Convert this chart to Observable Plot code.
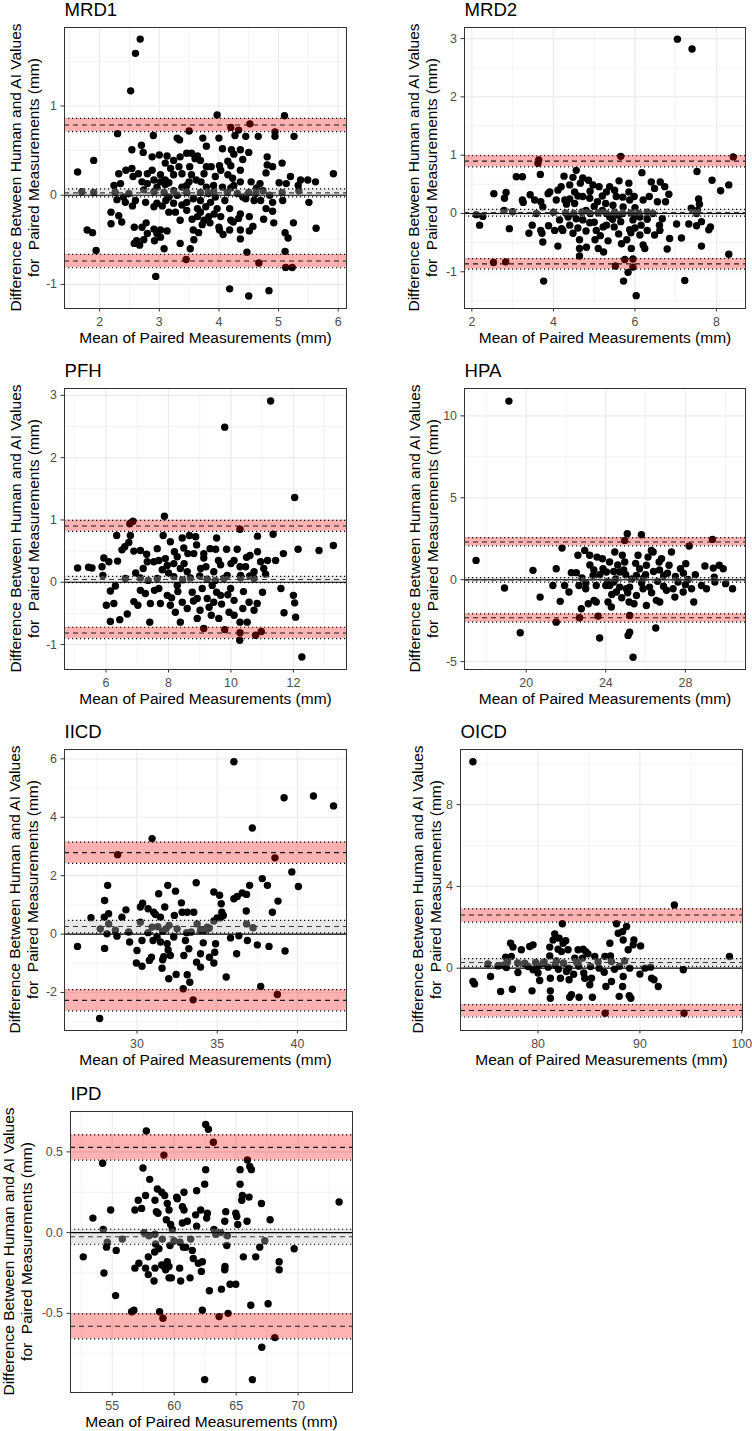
<!DOCTYPE html>
<html><head><meta charset="utf-8">
<script src="https://cdn.jsdelivr.net/npm/d3@7"></script>
<script src="https://cdn.jsdelivr.net/npm/@observablehq/plot@0.6"></script>
<style>
html,body{margin:0;padding:0;background:#fff;}
#chart{position:relative;width:752px;height:1431px;overflow:hidden;background:#fff;}
#chart svg{position:absolute;}
</style></head><body><div id="chart"></div>
<script>
// ---------- DATA: [mean of paired measurements, difference human - AI] ----------
const mrd1Points = [[2.68,1.75],[2.60,1.59],[2.52,1.17],[3.97,0.90],[5.10,0.89],[2.30,0.69],[2.90,0.67],[3.50,0.72],[4.20,0.76],[4.33,0.73],[4.52,0.80],[4.94,0.71],[4.94,0.66],[5.26,0.66],[3.73,0.64],[4.00,0.64],[3.30,0.64],[3.34,0.62],[4.45,0.66],[4.66,0.66],[4.27,0.67],[2.70,0.56],[2.54,0.51],[2.73,0.48],[1.90,0.39],[1.63,0.26],[2.32,0.24],[2.44,0.28],[2.54,0.30],[2.65,0.24],[2.56,0.21],[2.88,0.43],[3.00,0.45],[3.13,0.44],[3.24,0.39],[3.35,0.43],[3.46,0.47],[3.54,0.47],[3.60,0.41],[3.64,0.44],[3.79,0.55],[4.06,0.52],[4.21,0.51],[4.25,0.46],[4.36,0.51],[4.50,0.48],[4.40,0.40],[4.20,0.33],[3.79,0.32],[3.87,0.32],[4.01,0.33],[4.03,0.28],[4.36,0.28],[4.81,0.43],[4.81,0.34],[4.90,0.32],[5.06,0.36],[4.79,0.25],[5.20,0.21],[5.49,0.17],[5.62,0.15],[5.37,0.17],[5.33,0.11],[5.92,0.24],[5.13,0.13],[5.01,0.14],[4.54,0.15],[4.69,0.13],[4.63,0.08],[4.74,0.05],[1.70,0.04],[1.90,0.03],[2.26,0.03],[2.49,0.02],[2.74,0.06],[2.91,0.04],[3.08,0.03],[3.24,0.05],[3.46,0.03],[3.69,0.03],[3.91,0.04],[4.14,0.03],[4.31,0.02],[4.50,0.03],[5.06,0.03],[5.34,0.05],[5.51,-0.08],[5.07,-0.06],[5.63,-0.37],[4.90,-0.08],[4.79,-0.15],[4.90,-0.18],[4.59,-0.06],[4.70,-0.06],[4.45,-0.04],[5.25,-0.31],[4.92,-0.31],[4.75,-0.27],[4.51,-0.24],[4.36,-0.21],[4.33,-0.26],[4.36,-0.39],[4.36,-0.49],[4.51,-0.40],[4.57,-0.35],[4.47,-0.64],[5.11,-0.42],[5.16,-0.48],[5.11,-0.63],[5.12,-0.81],[5.23,-0.81],[4.67,-0.76],[3.45,-0.72],[2.94,-0.91],[4.18,-1.05],[4.50,-1.13],[4.84,-1.07],[1.94,-0.62],[1.79,-0.39],[1.88,-0.42],[2.19,-0.19],[2.19,-0.32],[2.32,-0.23],[2.37,-0.30],[2.29,-0.05],[2.55,-0.12],[2.58,-0.36],[2.62,-0.51],[2.58,-0.54],[2.67,-0.56],[2.74,-0.50],[2.80,-0.43],[2.71,-0.36],[2.78,-0.31],[2.91,-0.38],[2.92,-0.51],[2.96,-0.43],[3.02,-0.47],[3.08,-0.60],[3.02,-0.39],[3.13,-0.40],[3.16,-0.19],[3.05,-0.12],[2.91,-0.13],[2.77,-0.08],[3.24,-0.09],[3.27,-0.19],[3.35,-0.28],[3.35,-0.54],[3.52,-0.60],[3.58,-0.50],[3.57,-0.39],[3.64,-0.24],[3.69,-0.19],[3.75,-0.28],[3.78,-0.13],[3.83,-0.24],[3.92,-0.21],[3.97,-0.15],[4.00,-0.36],[4.01,-0.39],[4.03,-0.24],[4.10,-0.06],[4.18,-0.39],[4.18,-0.15],[4.20,-0.28],[4.24,-0.30],[3.69,-0.06],[3.86,-0.08],[3.94,-0.02],[3.46,-0.08],[3.57,-0.04],[3.16,-0.02],[3.11,-0.06],[2.96,-0.09],[3.64,-0.15],[3.46,-0.17],[3.38,-0.11],[3.24,0.23],[3.02,0.23],[3.10,0.17],[3.02,0.15],[3.16,0.14],[2.91,0.17],[2.80,0.13],[2.71,0.15],[2.96,0.09],[3.38,0.09],[3.46,0.11],[3.54,0.23],[3.51,0.32],[3.62,0.17],[3.70,0.15],[3.79,0.09],[3.91,0.11],[3.94,0.21],[4.06,0.09],[4.15,0.23],[4.23,0.19],[4.25,0.11],[4.20,0.08],[4.36,0.15],[3.38,0.24],[3.33,0.32],[3.19,0.30],[2.88,0.28],[2.80,0.24],[3.10,0.36],[2.35,0.13],[2.24,0.11],[2.40,-0.02],[2.43,-0.08],[2.60,-0.06],[3.75,0.24],[4.15,0.38],[3.69,0.39],[3.72,-0.33],[3.66,-0.42],[3.85,-0.31],[4.07,-0.44],[3.55,-0.27],[3.82,0.02],[4.40,-0.02],[4.62,0.02],[4.85,0.00],[3.30,0.00],[3.10,0.12],[3.50,0.15]];
const mrd2Points = [[7.04,2.99],[7.40,2.82],[5.65,0.98],[3.64,0.92],[3.62,0.86],[8.41,0.97],[7.52,0.72],[6.17,0.70],[3.68,0.67],[3.09,0.63],[3.24,0.63],[7.89,0.57],[8.30,0.49],[8.10,0.39],[4.56,0.74],[4.26,0.64],[4.48,0.62],[4.72,0.61],[4.86,0.57],[4.66,0.52],[4.40,0.49],[4.52,0.37],[4.11,0.40],[4.19,0.46],[3.87,0.34],[3.91,0.37],[2.54,0.34],[2.84,0.36],[2.80,0.26],[3.24,0.23],[3.26,0.19],[3.43,0.32],[3.54,0.23],[3.69,0.20],[3.74,0.11],[4.07,0.23],[4.97,0.49],[5.12,0.46],[5.30,0.37],[5.38,0.46],[5.54,0.29],[5.61,0.56],[5.85,0.52],[5.85,0.37],[5.87,0.23],[5.98,0.29],[6.20,0.23],[6.35,0.29],[6.40,0.54],[6.48,0.43],[6.62,0.54],[6.73,0.46],[6.83,0.33],[6.55,0.20],[6.75,0.20],[7.56,0.25],[7.58,0.16],[7.38,0.09],[7.53,0.05],[5.08,0.20],[4.89,0.26],[4.72,0.29],[4.52,0.17],[4.32,0.16],[4.28,0.23],[5.28,0.17],[5.46,0.14],[5.71,0.11],[2.11,-0.02],[2.19,-0.20],[2.27,-0.05],[2.79,0.05],[2.92,-0.26],[2.53,-0.84],[2.83,-0.83],[3.40,-0.34],[3.48,-0.20],[3.69,-0.29],[3.74,-0.49],[3.72,-0.34],[3.88,-0.21],[3.76,-1.16],[4.11,-0.56],[4.20,-0.26],[4.48,-0.34],[4.64,-0.45],[4.64,-0.60],[4.64,-0.73],[4.81,-0.58],[5.02,-0.45],[5.10,-0.60],[5.23,-0.66],[5.34,-0.47],[5.52,-0.90],[5.67,-0.52],[5.75,-0.79],[5.72,-1.16],[5.83,-1.01],[5.91,-0.60],[5.95,-0.78],[5.95,-0.92],[6.03,-1.41],[6.20,-0.54],[6.24,-0.60],[6.12,-0.37],[6.30,-0.29],[6.48,-0.37],[6.61,-0.29],[6.67,-0.09],[6.79,-0.61],[6.85,-0.43],[7.02,-0.18],[7.14,-0.42],[7.22,-1.15],[7.32,-0.18],[7.51,-0.21],[7.63,-0.14],[7.81,-0.28],[7.85,-0.23],[7.63,-0.56],[8.30,-0.70],[5.49,-0.23],[5.65,-0.14],[5.87,-0.28],[5.95,-0.11],[5.22,-0.23],[4.89,-0.16],[4.72,-0.11],[4.56,-0.09],[4.36,-0.06],[4.15,-0.11],[4.03,-0.29],[4.23,-0.29],[5.05,-0.29],[5.38,-0.06],[6.12,-0.06],[6.44,0.00],[7.51,0.00],[3.58,0.00],[4.00,0.02],[4.30,0.01],[4.50,0.00],[4.70,0.02],[4.90,0.00],[5.10,0.01],[5.30,0.00],[5.50,0.02],[5.70,0.00],[5.90,0.01],[6.10,0.00],[6.30,0.02],[4.80,0.05],[5.20,0.05],[5.60,-0.03],[6.00,-0.04],[3.00,0.03],[4.40,0.25],[4.60,0.30],[4.90,0.38],[5.00,0.12],[5.20,0.30],[5.50,0.40],[5.70,0.28],[6.00,0.10],[4.40,-0.20],[4.80,-0.30],[5.00,-0.15],[5.30,-0.20],[5.60,-0.35],[5.80,-0.45],[6.00,-0.25],[6.30,-0.10],[6.60,-0.20],[4.60,-0.25],[5.15,-0.38],[5.45,-0.10],[6.15,-0.20],[5.90,-0.33]];
const pfhPoints = [[11.27,2.91],[9.80,2.49],[12.04,1.36],[7.87,1.06],[6.86,0.98],[6.76,0.94],[10.29,0.85],[11.35,0.77],[6.34,0.75],[6.78,0.75],[7.83,0.75],[8.44,0.71],[8.67,0.75],[8.87,0.73],[9.54,0.71],[10.85,0.74],[6.73,0.64],[6.60,0.57],[6.51,0.52],[6.37,0.34],[6.09,0.33],[5.93,0.39],[5.87,0.25],[5.09,0.23],[5.44,0.24],[5.55,0.23],[5.90,0.11],[6.89,0.50],[7.10,0.51],[7.32,0.33],[7.19,0.22],[7.53,0.33],[7.64,0.54],[7.69,0.35],[8.06,0.65],[8.19,0.49],[8.28,0.41],[8.49,0.55],[8.62,0.46],[8.81,0.46],[9.13,0.39],[9.13,0.46],[9.33,0.54],[9.51,0.53],[9.86,0.53],[10.20,0.53],[9.67,0.28],[10.10,0.35],[10.29,0.25],[10.47,0.25],[10.61,0.43],[10.85,0.49],[10.95,0.33],[11.17,0.35],[11.43,0.35],[11.05,0.22],[11.11,0.13],[11.68,0.46],[12.15,0.53],[12.82,0.51],[13.28,0.59],[7.90,0.38],[7.96,0.27],[8.17,0.30],[8.38,0.22],[8.60,0.17],[9.03,0.22],[9.45,0.17],[9.88,0.11],[10.31,0.11],[10.74,0.17],[6.62,0.06],[7.10,0.07],[7.64,0.06],[8.17,0.09],[8.70,0.07],[9.24,0.05],[9.77,0.06],[10.31,0.07],[10.74,0.06],[7.35,0.03],[8.45,0.04],[9.50,0.03],[6.14,-0.14],[6.30,-0.06],[6.25,-0.34],[6.01,-0.37],[6.14,-0.63],[6.44,-0.60],[6.68,-0.51],[6.89,-0.31],[7.02,-0.37],[7.10,-0.13],[7.26,-0.18],[7.42,-0.34],[7.40,-0.64],[7.55,-0.13],[7.74,-0.34],[7.96,-0.21],[8.06,-0.37],[8.22,-0.48],[8.38,-0.64],[8.44,-0.32],[8.60,-0.42],[8.76,-0.16],[8.92,-0.58],[9.01,-0.45],[9.13,-0.74],[9.37,-0.53],[9.45,-0.32],[9.61,-0.58],[9.67,-0.21],[9.80,-0.76],[9.94,-0.48],[10.10,-0.29],[10.10,-0.53],[10.29,-0.64],[10.29,-0.81],[10.28,-0.93],[10.38,-0.42],[10.52,-0.64],[10.58,-0.32],[10.74,-0.45],[10.79,-0.85],[10.97,-0.79],[10.84,-0.34],[11.01,-0.16],[11.60,-0.10],[11.70,-0.49],[12.00,-0.21],[12.04,-0.33],[12.07,-0.56],[12.27,-1.20],[9.08,-0.10],[9.24,-0.26],[9.99,-0.10],[9.54,-0.16],[7.69,-0.10],[8.92,-0.26],[8.28,-0.05],[8.00,0.15],[8.30,-0.15],[8.50,0.30],[8.80,-0.30],[9.00,0.10],[9.30,-0.40],[9.60,0.35],[9.90,-0.20],[10.00,0.30],[10.40,-0.15],[8.10,-0.25],[7.80,0.20],[9.70,-0.35],[10.60,0.10],[8.90,0.60],[9.20,0.25],[10.50,0.40],[7.30,0.45],[6.95,0.15],[9.40,-0.05]];
const hpaPoints = [[19.13,10.90],[17.48,1.18],[18.91,-0.51],[19.70,-3.24],[20.34,0.57],[20.70,-1.06],[21.51,0.67],[21.34,-0.35],[21.71,-1.32],[21.51,-2.59],[21.80,1.93],[21.93,-0.35],[22.15,-0.75],[22.27,0.43],[22.52,0.43],[22.60,1.49],[22.65,-0.35],[22.68,-2.32],[22.77,-1.77],[22.94,1.79],[23.19,1.49],[22.99,-0.55],[23.12,-1.47],[23.41,-1.26],[23.52,-1.36],[23.56,1.38],[23.61,-2.22],[23.69,-3.56],[23.83,1.28],[23.86,0.67],[24.00,-0.35],[24.11,-1.36],[24.19,1.08],[24.28,-1.67],[24.40,-0.14],[24.45,1.69],[24.53,-0.75],[24.70,0.47],[24.83,1.49],[24.95,2.40],[25.03,-0.55],[25.08,2.81],[24.95,1.08],[25.12,-3.40],[25.20,-3.20],[25.17,-1.36],[25.20,-2.18],[25.37,-4.73],[25.42,-1.47],[25.54,0.26],[25.62,1.49],[25.79,2.75],[25.87,-0.55],[26.04,-1.57],[26.12,1.38],[26.29,1.79],[26.38,1.69],[26.51,-2.95],[26.54,-1.26],[26.68,1.08],[26.71,-1.36],[26.80,1.28],[26.91,0.26],[27.05,-0.65],[27.18,0.88],[27.30,1.69],[27.38,-0.55],[27.47,-1.06],[27.63,-0.14],[27.75,0.67],[27.89,-0.75],[28.02,0.98],[28.14,0.02],[28.19,2.06],[28.31,-0.55],[28.42,-1.36],[28.81,-0.35],[28.98,0.84],[29.06,-0.55],[29.36,2.46],[29.40,0.71],[29.45,0.16],[29.48,-0.14],[29.70,0.88],[29.90,0.67],[30.02,-0.24],[30.37,-0.55],[23.36,0.26],[23.52,-0.35],[23.70,0.30],[24.03,0.47],[24.20,-0.35],[24.40,0.50],[24.50,0.05],[24.70,-0.45],[24.90,0.60],[25.20,-0.45],[25.30,0.05],[25.54,-0.96],[25.70,0.67],[25.90,0.10],[26.04,0.88],[26.20,-0.45],[26.40,0.50],[26.60,-0.10],[26.90,-0.40],[27.10,0.40],[23.20,0.90],[23.00,-0.20],[24.30,-0.90],[24.80,-1.10],[25.50,1.00],[25.00,0.30],[24.60,0.90],[25.80,-0.20],[26.30,-0.80],[27.50,0.20],[28.50,0.30],[28.00,-0.30],[23.40,0.60],[24.10,-0.10],[25.10,-0.80],[26.00,0.30],[22.80,0.10],[26.70,0.60],[27.90,0.40]];
const iicdPoints = [[36.04,5.90],[39.17,4.67],[41.00,4.73],[42.25,4.39],[37.19,3.63],[30.94,3.27],[28.79,2.72],[38.60,2.61],[39.65,2.13],[40.06,1.63],[37.81,1.90],[38.13,1.67],[37.02,1.67],[38.79,1.13],[38.44,0.75],[28.17,1.67],[27.98,1.15],[31.92,1.67],[32.40,1.47],[31.35,1.38],[33.69,1.76],[34.79,1.44],[35.15,1.33],[36.04,1.21],[36.25,1.29],[36.56,1.41],[36.83,1.36],[35.25,1.04],[32.77,1.07],[30.35,1.06],[30.21,0.93],[30.69,0.87],[29.31,0.83],[31.73,0.93],[31.04,0.75],[31.15,0.67],[31.46,0.58],[32.81,0.75],[33.13,0.75],[33.54,0.75],[32.33,0.64],[35.29,0.75],[35.38,0.64],[36.81,0.79],[27.13,0.56],[27.96,0.58],[28.23,0.70],[29.06,0.58],[30.21,0.41],[34.79,0.45],[35.21,0.56],[26.29,-0.42],[27.98,-0.49],[27.67,-2.89],[27.71,0.18],[28.23,0.35],[28.13,0.01],[28.65,0.13],[28.75,-0.07],[29.48,0.07],[29.54,-0.27],[30.00,-0.56],[29.96,-0.99],[30.31,-1.10],[30.31,-0.22],[30.69,0.05],[30.77,-0.90],[30.90,-0.79],[31.00,-0.22],[31.25,-0.10],[31.46,-0.27],[31.60,-0.88],[31.56,-1.17],[31.67,-0.77],[31.88,-0.33],[31.94,-0.54],[32.08,-0.73],[31.98,-1.53],[31.81,0.18],[32.29,-0.10],[32.44,-1.38],[32.92,-0.73],[32.88,-1.87],[33.02,-0.22],[33.13,-1.39],[33.23,-0.50],[33.29,-1.65],[33.38,0.07],[33.50,-2.25],[33.71,-0.96],[33.96,-0.67],[33.96,-1.13],[34.13,-0.30],[34.21,0.13],[34.52,-0.79],[34.79,-0.99],[34.85,-0.62],[34.90,-0.33],[35.56,-1.47],[35.83,-0.13],[36.21,-0.67],[36.35,-0.06],[36.88,-0.22],[36.83,0.35],[37.23,0.22],[37.50,-0.37],[37.71,-1.79],[38.23,-0.42],[38.75,-2.07],[39.23,-0.58],[33.75,0.35],[33.96,0.13],[32.50,0.18],[30.94,0.24],[34.38,0.24],[31.30,0.25],[31.60,0.10],[32.00,0.30],[33.10,0.05],[35.00,0.55],[34.50,0.20]];
const oicdPoints = [[73.61,10.10],[93.38,3.09],[98.79,0.57],[94.26,-0.08],[73.61,-0.65],[73.77,-0.77],[75.34,-0.41],[75.08,0.21],[76.07,0.11],[76.33,-1.14],[76.66,0.16],[76.89,0.03],[77.31,1.22],[77.38,0.57],[77.54,1.03],[77.48,-1.03],[76.82,0.54],[78.03,-0.21],[78.36,0.90],[78.69,0.24],[79.02,0.08],[79.18,1.06],[79.51,1.14],[79.77,0.28],[79.51,-0.08],[79.41,-1.11],[80.00,-0.24],[80.16,-0.60],[80.49,0.24],[81.15,1.03],[81.15,0.60],[81.21,-0.49],[81.21,-1.11],[81.21,-1.47],[81.48,1.38],[81.64,1.68],[81.97,0.93],[82.07,1.47],[82.20,-0.49],[82.30,0.81],[82.39,2.17],[82.46,1.22],[82.72,1.34],[82.79,-0.16],[82.95,0.90],[83.05,-0.57],[83.11,-1.42],[83.28,-1.30],[83.61,0.49],[83.93,0.90],[84.03,-1.42],[84.36,0.49],[84.43,0.93],[84.49,-0.24],[84.59,-0.49],[84.69,0.81],[85.08,-0.81],[85.15,0.08],[85.25,-0.49],[85.34,-1.42],[85.57,0.57],[86.56,0.57],[86.66,-0.90],[86.59,-2.20],[87.05,1.22],[87.11,0.60],[87.21,-0.65],[87.70,2.17],[87.87,1.71],[87.97,-1.38],[88.30,1.79],[88.36,1.38],[88.36,-0.41],[88.30,-0.90],[88.69,2.04],[88.85,0.90],[88.95,-1.35],[89.11,-1.47],[89.34,1.14],[89.41,1.38],[90.00,-0.29],[90.07,1.09],[91.05,0.05],[91.15,-0.49],[91.38,-0.57],[91.80,-0.90],[94.33,-2.20],[77.00,0.30],[78.00,0.25],[78.70,0.22],[80.60,0.30],[81.80,0.35],[82.50,0.25],[83.80,0.28],[85.90,0.30],[87.20,0.33],[88.50,0.35],[80.00,0.10],[81.00,0.05],[82.00,-0.05],[83.00,0.00],[84.00,0.10],[86.00,0.00],[87.50,-0.05],[88.00,0.10],[89.00,0.00],[90.50,0.00],[86.50,-0.20],[84.90,0.70],[81.70,0.15],[83.50,-0.30]];
const ipdPoints = [[62.54,0.67],[62.76,0.64],[57.75,0.63],[63.16,0.56],[59.17,0.48],[65.91,0.45],[66.10,0.41],[66.23,0.39],[54.22,0.43],[57.48,0.40],[62.54,0.39],[65.32,0.39],[58.02,0.33],[62.46,0.30],[65.32,0.30],[58.64,0.27],[61.81,0.26],[58.99,0.25],[59.23,0.23],[58.45,0.20],[57.69,0.23],[57.10,0.20],[60.79,0.25],[60.20,0.22],[60.25,0.21],[59.44,0.18],[65.50,0.23],[65.45,0.20],[66.04,0.22],[67.04,0.18],[73.31,0.19],[53.44,0.09],[54.87,0.14],[56.83,0.14],[57.37,0.15],[58.56,0.13],[58.69,0.12],[59.58,0.14],[60.66,0.16],[60.79,0.14],[61.73,0.11],[62.14,0.14],[62.68,0.12],[62.62,0.09],[59.36,0.08],[59.71,0.05],[59.85,0.02],[60.66,0.06],[61.06,0.07],[61.81,0.04],[63.21,0.02],[64.16,0.13],[64.08,0.07],[64.97,0.12],[65.05,0.10],[65.13,0.05],[65.88,0.07],[67.74,0.08],[54.27,0.02],[54.60,-0.06],[54.54,-0.09],[55.81,-0.04],[55.32,-0.11],[52.66,-0.15],[54.33,-0.25],[55.27,-0.39],[56.56,-0.49],[56.75,-0.48],[56.83,-0.22],[57.15,-0.19],[57.69,-0.22],[57.91,-0.26],[57.91,-0.15],[57.56,0.00],[57.96,-0.02],[58.45,-0.01],[58.50,-0.07],[58.42,-0.12],[58.37,-0.30],[58.45,-0.22],[58.77,-0.10],[58.99,-0.20],[59.04,-0.04],[59.17,-0.21],[59.31,-0.23],[59.44,-0.18],[59.58,-0.21],[59.58,-0.28],[59.77,-0.28],[58.82,-0.49],[59.09,-0.53],[59.66,-0.08],[59.98,-0.05],[60.47,-0.06],[60.44,-0.22],[60.52,-0.30],[60.74,-0.09],[60.93,-0.09],[61.28,-0.28],[61.33,-0.04],[61.46,-0.11],[61.54,-0.16],[61.95,-0.19],[62.27,-0.18],[62.19,-0.24],[62.27,-0.48],[62.46,-0.91],[62.84,-0.36],[63.35,-0.01],[63.62,-0.52],[63.75,0.00],[63.81,-0.35],[64.10,-0.21],[64.08,-0.23],[64.24,-0.08],[64.29,-0.02],[64.35,-0.50],[64.51,-0.32],[64.97,-0.32],[65.58,-0.15],[66.18,-0.45],[66.31,-0.91],[66.58,-0.15],[66.90,-0.09],[67.07,-0.71],[67.31,-0.05],[67.58,-0.44],[68.12,-0.65],[68.47,-0.18],[68.47,-0.23],[69.68,-0.10]];

// Bias and limits of agreement: [lower CI, estimate, upper CI]
const mrd1Bias = [-0.019, 0.026, 0.071], mrd1Upper = [0.712, 0.787, 0.861], mrd1Lower = [-0.813, -0.738, -0.663];
const mrd2Bias = [-0.045, 0.015, 0.07], mrd2Upper = [0.80, 0.898, 0.99], mrd2Lower = [-0.956, -0.865, -0.773];
const pfhBias = [-0.005, 0.045, 0.095], pfhUpper = [0.818, 0.904, 0.995], pfhLower = [-0.904, -0.813, -0.722];
const hpaBias = [-0.15, -0.01, 0.13], hpaUpper = [2.06, 2.30, 2.57], hpaLower = [-2.59, -2.32, -2.08];
const iicdBias = [0.04, 0.26, 0.47], iicdUpper = [2.42, 2.79, 3.15], iicdLower = [-2.63, -2.27, -1.90];
const oicdBias = [0.09, 0.28, 0.47], oicdUpper = [2.25, 2.60, 2.90], oicdLower = [-2.39, -2.07, -1.78];
const ipdBias = [-0.072, -0.026, 0.021], ipdUpper = [0.449, 0.528, 0.605], ipdLower = [-0.658, -0.580, -0.503];

// Axis ranges and ticks
const mrd1XDomain = [1.41, 6.14], mrd1YDomain = [-1.27, 1.88];
const mrd2XDomain = [1.82, 8.71], mrd2YDomain = [-1.63, 3.19];
const pfhXDomain = [4.67, 13.70], pfhYDomain = [-1.40, 3.11];
const hpaXDomain = [16.90, 31.02], hpaYDomain = [-5.48, 11.67];
const iicdXDomain = [25.48, 43.06], iicdYDomain = [-3.30, 6.32];
const oicdXDomain = [72.39, 100.07], oicdYDomain = [-3.05, 10.70];
const ipdXDomain = [51.63, 74.39], ipdYDomain = [-0.99, 0.75];

const mrd1XTicks = [2,3,4,5,6], mrd1XMinor = [1.5,2.5,3.5,4.5,5.5], mrd1YTicks = [-1,0,1], mrd1YMinor = [-0.5,0.5,1.5];
const mrd2XTicks = [2,4,6,8], mrd2XMinor = [3,5,7], mrd2YTicks = [-1,0,1,2,3], mrd2YMinor = [-1.5,-0.5,0.5,1.5,2.5];
const pfhXTicks = [6,8,10,12], pfhXMinor = [5,7,9,11,13], pfhYTicks = [-1,0,1,2,3], pfhYMinor = [-0.5,0.5,1.5,2.5];
const hpaXTicks = [20,24,28], hpaXMinor = [18,22,26,30], hpaYTicks = [-5,0,5,10], hpaYMinor = [-2.5,2.5,7.5];
const iicdXTicks = [30,35,40], iicdXMinor = [27.5,32.5,37.5,42.5], iicdYTicks = [-2,0,2,4,6], iicdYMinor = [-3,-1,1,3,5];
const oicdXTicks = [80,90,100], oicdXMinor = [75,85,95], oicdYTicks = [0,4,8], oicdYMinor = [-2,2,6,10];
const ipdXTicks = [55,60,65,70], ipdXMinor = [52.5,57.5,62.5,67.5,72.5], ipdYTicks = [-0.5,0,0.5], ipdYMinor = [-0.75,-0.25,0.25,0.75];

const titles = ["MRD1", "MRD2", "PFH", "HPA", "IICD", "OICD", "IPD"];
const xLabel = "Mean of Paired Measurements (mm)";
const yLabelLines = ["Difference Between Human and AI Values", "for  Paired Measurements (mm)"];

// ---------- DRAWING ----------
const FONT = '"Liberation Sans", Arial, Helvetica, sans-serif';
const GRID = "#EBEBEB";
const W = 376, H = 347, MT = 27, MB = 39;

function panel(p) {
  const pts = p.points.map(([m, d]) => ({mean: m, diff: d}));
  const red = [{lo: p.lower[0], hi: p.lower[2]}, {lo: p.upper[0], hi: p.upper[2]}];
  const gray = [{lo: p.bias[0], hi: p.bias[2]}];
  const fmtY = p.yFmt || (d => String(d));
  const ml = p.frame[0] - p.cell[0];
  const svg = Plot.plot({
    width: W, height: H,
    marginLeft: ml,
    marginRight: p.cell[0] + W - p.frame[1],
    marginTop: MT, marginBottom: MB,
    style: {fontFamily: FONT, background: "white", overflow: "visible", color: "black"},
    x: {domain: p.xDomain, label: null},
    y: {domain: p.yDomain, label: null},
    marks: [
      Plot.gridX(p.xMinor, {stroke: GRID, strokeOpacity: 1, strokeWidth: 0.6}),
      Plot.gridY(p.yMinor, {stroke: GRID, strokeOpacity: 1, strokeWidth: 0.6}),
      Plot.gridX(p.xTicks, {stroke: GRID, strokeOpacity: 1, strokeWidth: 1.2}),
      Plot.gridY(p.yTicks, {stroke: GRID, strokeOpacity: 1, strokeWidth: 1.2}),
      Plot.dot(pts, {x: "mean", y: "diff", r: 3.7, fill: "black", stroke: "none"}),
      Plot.rect(red, {y1: "lo", y2: "hi", fill: "red", fillOpacity: 0.3}),
      Plot.rect(gray, {y1: "lo", y2: "hi", fill: "#BEBEBE", fillOpacity: 0.36}),
      Plot.ruleY([0], {stroke: "black", strokeWidth: 1.1}),
      Plot.ruleY([p.lower[1], p.upper[1]], {stroke: "#1a1a1a", strokeWidth: 1.1, strokeDasharray: "5,4"}),
      Plot.ruleY([p.bias[1]], {stroke: "#3a3a3a", strokeWidth: 1.1, strokeDasharray: "5,4"}),
      Plot.ruleY([p.lower[0], p.lower[2], p.upper[0], p.upper[2], p.bias[0], p.bias[2]],
                 {stroke: "black", strokeWidth: 1.2, strokeDasharray: "1.2,2.8"}),
      Plot.frame({stroke: "#333", strokeWidth: 1}),
      Plot.axisX(p.xTicks, {tickSize: 3.5, tickPadding: 5, fontSize: 12.4, fill: "#4D4D4D", stroke: "#333",
                            tickFormat: d => String(d), label: null}),
      Plot.axisY(p.yTicks, {tickSize: 3.5, tickPadding: 4, fontSize: 12.4, fill: "#4D4D4D", stroke: "#333",
                            tickFormat: fmtY, label: null}),
      Plot.text([p.title], {text: d => d, frameAnchor: "top-left", dy: -12, lineAnchor: "bottom",
                            textAnchor: "start", fontSize: 18.6, fill: "black"}),
      Plot.text([xLabel], {text: d => d, frameAnchor: "bottom", dy: 34, lineAnchor: "bottom",
                           fontSize: 15.5, fill: "black"})
    ]
  });
  // rotated two-line y-axis title, centred on the panel frame
  const cx = ml + p.yLabelDx;
  const cy = MT + (H - MT - MB) / 2;
  const t = d3.select(svg).append("text")
    .attr("transform", `translate(${cx},${cy}) rotate(-90)`)
    .attr("text-anchor", "middle")
    .attr("font-family", FONT)
    .attr("font-size", 15.5)
    .attr("fill", "black");
  t.append("tspan").attr("x", 0).attr("y", "-0.22em").text(yLabelLines[0]);
  t.append("tspan").attr("x", 0).attr("y", "0.94em").attr("xml:space", "preserve")
    .style("white-space", "pre").text(yLabelLines[1]);
  svg.style.left = p.cell[0] + "px";
  svg.style.top = p.cell[1] + "px";
  document.getElementById("chart").append(svg);
}

const panels = [
  {title: titles[0], points: mrd1Points, bias: mrd1Bias, upper: mrd1Upper, lower: mrd1Lower,
   xDomain: mrd1XDomain, yDomain: mrd1YDomain, xTicks: mrd1XTicks, xMinor: mrd1XMinor, yTicks: mrd1YTicks, yMinor: mrd1YMinor,
   cell: [0, 0], frame: [64, 346], yLabelDx: -40},
  {title: titles[1], points: mrd2Points, bias: mrd2Bias, upper: mrd2Upper, lower: mrd2Lower,
   xDomain: mrd2XDomain, yDomain: mrd2YDomain, xTicks: mrd2XTicks, xMinor: mrd2XMinor, yTicks: mrd2YTicks, yMinor: mrd2YMinor,
   cell: [376, 0], frame: [464, 745], yLabelDx: -41.5},
  {title: titles[2], points: pfhPoints, bias: pfhBias, upper: pfhUpper, lower: pfhLower,
   xDomain: pfhXDomain, yDomain: pfhYDomain, xTicks: pfhXTicks, xMinor: pfhXMinor, yTicks: pfhYTicks, yMinor: pfhYMinor,
   cell: [0, 361], frame: [64, 346], yLabelDx: -40},
  {title: titles[3], points: hpaPoints, bias: hpaBias, upper: hpaUpper, lower: hpaLower,
   xDomain: hpaXDomain, yDomain: hpaYDomain, xTicks: hpaXTicks, xMinor: hpaXMinor, yTicks: hpaYTicks, yMinor: hpaYMinor,
   cell: [376, 361], frame: [464, 745], yLabelDx: -41},
  {title: titles[4], points: iicdPoints, bias: iicdBias, upper: iicdUpper, lower: iicdLower,
   xDomain: iicdXDomain, yDomain: iicdYDomain, xTicks: iicdXTicks, xMinor: iicdXMinor, yTicks: iicdYTicks, yMinor: iicdYMinor,
   cell: [0, 722], frame: [64, 346], yLabelDx: -41},
  {title: titles[5], points: oicdPoints, bias: oicdBias, upper: oicdUpper, lower: oicdLower,
   xDomain: oicdXDomain, yDomain: oicdYDomain, xTicks: oicdXTicks, xMinor: oicdXMinor, yTicks: oicdYTicks, yMinor: oicdYMinor,
   cell: [376, 722], frame: [460, 742], yLabelDx: -34},
  {title: titles[6], points: ipdPoints, bias: ipdBias, upper: ipdUpper, lower: ipdLower,
   xDomain: ipdXDomain, yDomain: ipdYDomain, xTicks: ipdXTicks, xMinor: ipdXMinor, yTicks: ipdYTicks, yMinor: ipdYMinor,
   cell: [0, 1084], frame: [70, 352], yLabelDx: -52.5, yFmt: d => d.toFixed(1)}
];
panels.forEach(panel);
</script>
</body></html>
